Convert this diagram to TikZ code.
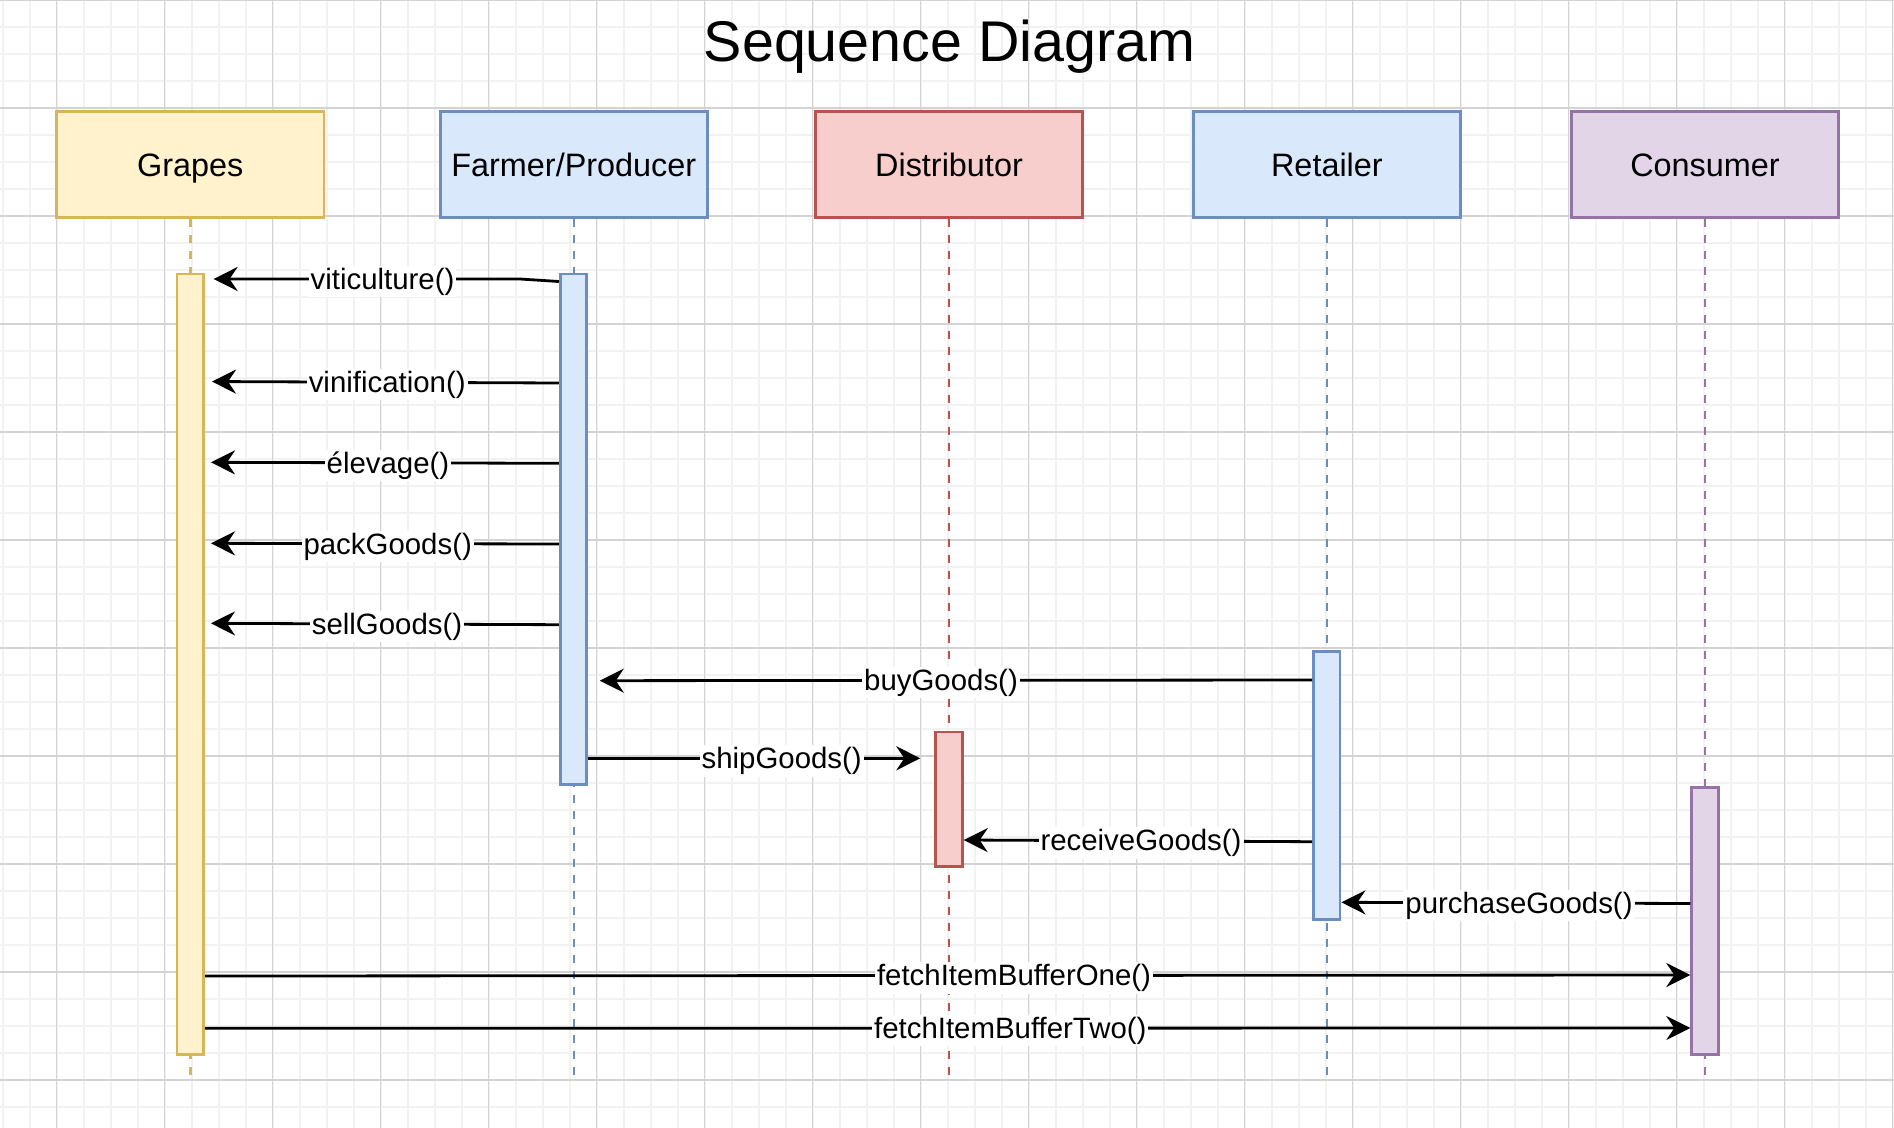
\documentclass[tikz,border=0pt]{standalone}
\usepackage{fontspec}
\setmainfont{Liberation Sans}
\usepackage{tikz}
\usetikzlibrary{arrows.meta}

\definecolor{gridminor}{HTML}{F2F2F2}
\definecolor{gridmajor}{HTML}{D3D3D3}
\definecolor{yelfill}{HTML}{FFF2CC}
\definecolor{yelline}{HTML}{D6B656}
\definecolor{bluefill}{HTML}{DAE8FC}
\definecolor{blueline}{HTML}{6C8EBF}
\definecolor{redfill}{HTML}{F8CECC}
\definecolor{redline}{HTML}{B85450}
\definecolor{purpfill}{HTML}{E1D5E7}
\definecolor{purpline}{HTML}{9673A6}

\begin{document}
\begin{tikzpicture}[x=0.5pt, y=-0.5pt, >={Stealth[length=12pt, width=12pt, inset=4pt]},
    actor/.style={draw, line width=1.4pt, minimum width=133.7pt, minimum height=52.7pt, inner sep=0pt, text height=11.6pt, text depth=0pt, font=\fontsize{16.2}{19}\selectfont},
    bar/.style={draw, line width=1.4pt, minimum width=13.3pt, inner sep=0pt},
    lifeline/.style={line width=1.2pt, dash pattern=on 4pt off 4pt},
    msg/.style={->, line width=1.4pt},
    lbl/.style={fill=white, inner sep=1pt, yshift=-1.3pt, font=\fontsize{14.7}{17}\selectfont}]
    \useasboundingbox (0,0) rectangle (1894,1128);
    \fill[white] (0,0) rectangle (1894,1128);

    % Grid
    \foreach \i in {0,...,70}
        \draw[gridminor, line width=1pt] ({2.7+27*\i},0) -- ({2.7+27*\i},1128);
    \foreach \i in {0,...,41}
        \draw[gridminor, line width=1pt] (0,{27*\i}) -- (1894,{27*\i});
    \foreach \i in {0,...,17}
        \draw[gridmajor, line width=0.6pt] ({56.7+108*\i},0) -- ({56.7+108*\i},1128);
    \foreach \i in {0,...,10}
        \draw[gridmajor, line width=0.6pt] (0,{108*\i}) -- (1894,{108*\i});

    % Title
    \node[anchor=base, font=\fontsize{28.7}{34}\selectfont] (title) at (949.5,61.7) {Sequence Diagram};

    % Actors
    \node[actor, fill=yelfill, draw=yelline] (grapes) at (190.3,164.5) {Grapes};
    \node[actor, fill=bluefill, draw=blueline] (farmer) at (573.8,164.5) {Farmer/Producer};
    \node[actor, fill=redfill, draw=redline] (dist) at (949,164.5) {Distributor};
    \node[actor, fill=bluefill, draw=blueline] (retailer) at (1326.9,164.5) {Retailer};
    \node[actor, fill=purpfill, draw=purpline] (consumer) at (1705,164.5) {Consumer};

    % Lifelines
    \coordinate (bottom) at (0,1081);
    \draw[lifeline, yelline] (grapes.south) -- (grapes.south |- bottom);
    \draw[lifeline, blueline] (farmer.south) -- (farmer.south |- bottom);
    \draw[lifeline, redline] (dist.south) -- (dist.south |- bottom);
    \draw[lifeline, blueline] (retailer.south) -- (retailer.south |- bottom);
    \draw[lifeline, purpline] (consumer.south) -- (consumer.south |- bottom);

    % Activation bars
    \node[bar, fill=yelfill, draw=yelline, minimum height=390.3pt] (grapesbar) at (190.3,664.4) {};
    \node[bar, fill=bluefill, draw=blueline, minimum height=255.2pt] (farmerbar) at (573.5,529.2) {};
    \node[bar, fill=redfill, draw=redline, minimum height=67.2pt] (distbar) at (949,799.2) {};
    \node[bar, fill=bluefill, draw=blueline, minimum height=134.2pt] (retailerbar) at (1326.7,785.5) {};
    \node[bar, fill=purpfill, draw=purpline, minimum height=133.7pt] (consumerbar) at (1705,921) {};

    % Farmer/Producer to Grapes
    \draw[msg, shorten >=4.3pt] (farmerbar.west |- 0,281.5) -- (520,279) -- (grapesbar.east |- 0,279);
    \node[lbl] (viti) at (382.5,279) {viticulture()};
    \draw[msg, shorten >=3.5pt] (farmerbar.west |- 0,383) -- (grapesbar.east |- 0,381.5);
    \node[lbl] (vini) at (387.2,382) {vinification()};
    \draw[msg, shorten >=3pt] (farmerbar.west |- 0,463.3) -- (grapesbar.east |- 0,462.3);
    \node[lbl] (elev) at (388,463) {élevage()};
    \draw[msg, shorten >=3pt] (farmerbar.west |- 0,544) -- (grapesbar.east |- 0,543.3);
    \node[lbl] (pack) at (387.7,544) {packGoods()};
    \draw[msg, shorten >=3pt] (farmerbar.west |- 0,624.7) -- (grapesbar.east |- 0,623.3);
    \node[lbl] (sell) at (387,624) {sellGoods()};

    % Trade along the chain
    \draw[msg, shorten >=5.8pt] (retailerbar.west |- 0,680) -- (farmerbar.east |- 0,680.7);
    \node[lbl] (buy) at (941,680) {buyGoods()};
    \draw[msg, shorten >=7pt] (farmerbar.east |- 0,758.3) -- (distbar.west |- 0,758.3);
    \node[lbl] (ship) at (781.7,758.3) {shipGoods()};
    \draw[msg] (retailerbar.west |- 0,841.7) -- (distbar.east |- 0,840);
    \node[lbl] (receive) at (1141,840.5) {receiveGoods()};
    \draw[msg] (consumerbar.west |- 0,903.5) -- (retailerbar.east |- 0,902.3);
    \node[lbl] (purchase) at (1519,903) {purchaseGoods()};

    % Grapes to Consumer
    \draw[msg] (grapesbar.east |- 0,976) -- (consumerbar.west |- 0,975);
    \node[lbl] (fetchone) at (1014,975.5) {fetchItemBufferOne()};
    \draw[msg] (grapesbar.east |- 0,1028.3) -- (consumerbar.west |- 0,1028);
    \node[lbl] (fetchtwo) at (1010.3,1028) {fetchItemBufferTwo()};
\end{tikzpicture}
\end{document}
